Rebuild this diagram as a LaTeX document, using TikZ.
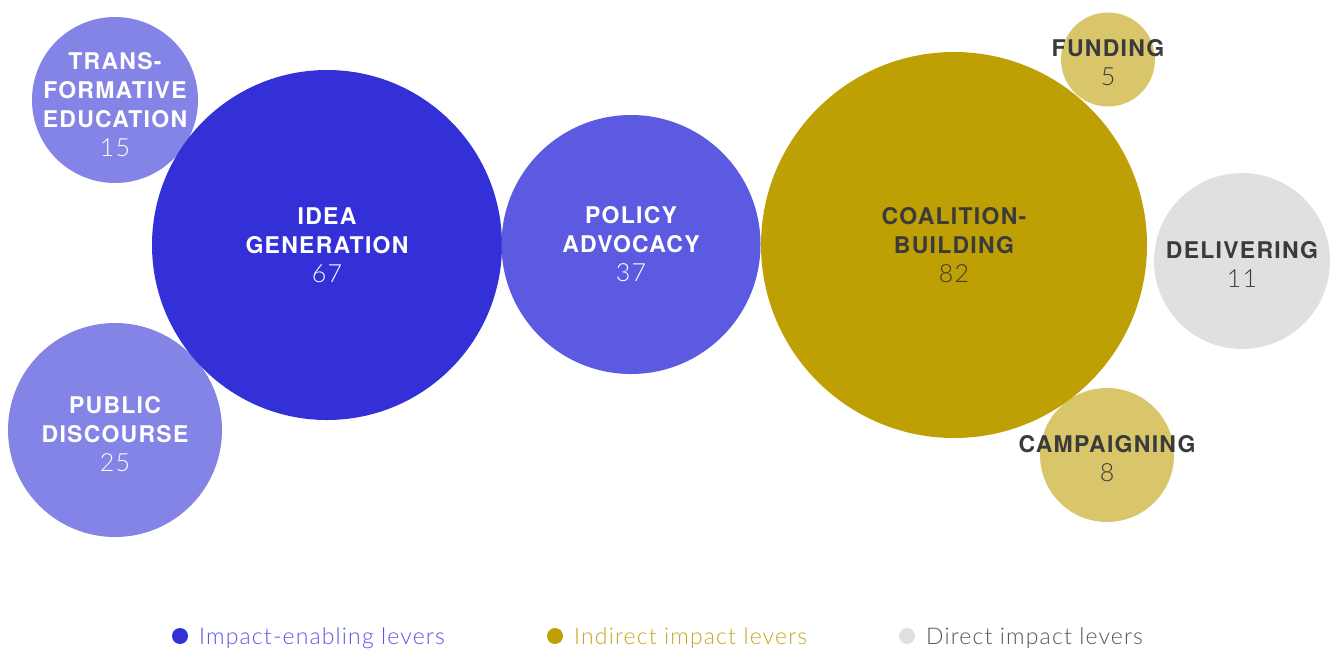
\documentclass[tikz,border=0pt]{standalone}
\usepackage{fontspec}
\setmainfont{TeX Gyre Heros}
\newfontfamily\labfont[LetterSpace=5.5]{TeX Gyre Heros}
\newfontfamily\numfont[LetterSpace=5]{Lato Light}
\definecolor{cidea}{HTML}{3430D8}
\definecolor{cpolicy}{HTML}{5B5AE0}
\definecolor{clight}{HTML}{8483E6}
\definecolor{ccoal}{HTML}{BFA004}
\definecolor{cgoldl}{HTML}{D9C66A}
\definecolor{cgrey}{HTML}{E0E0E0}
\definecolor{cdark}{HTML}{3B3B3B}
\definecolor{lgblue}{HTML}{5A55E6}
\definecolor{lggold}{HTML}{C4A820}
\definecolor{lggrey}{HTML}{555555}
\tikzset{
  bub/.style={circle, inner sep=0pt, minimum size=#1, draw=none},
  lab/.style={align=center, inner sep=0pt, yshift=0pt,
    font=\labfont\bfseries\fontsize{23}{29}\selectfont},
  legdot/.style={circle, inner sep=0pt, minimum size=16pt},
  legtxt/.style={anchor=base west, inner sep=0pt, font=\numfont\fontsize{23}{28}\selectfont},
}
\newcommand{\nm}[1]{{\numfont\mdseries\fontsize{25}{30}\selectfont #1}}
\begin{document}
\begin{tikzpicture}[x=1pt,y=-1pt]
\useasboundingbox (0,0) rectangle (1330,649);
% bubbles
\node[bub=166pt, fill=clight] (trans) at (115,100) {};
\node[bub=214pt, fill=clight] (pub) at (115,430) {};
\node[bub=350pt, fill=cidea] (idea) at (327,245) {};
\node[bub=259pt, fill=cpolicy] (pol) at (631,244.5) {};
\node[bub=94pt, fill=cgoldl] (fund) at (1108,59.5) {};
\node[bub=134pt, fill=cgoldl] (camp) at (1107,455) {};
\node[bub=386pt, fill=ccoal] (coal) at (954,245) {};
\node[bub=176pt, fill=cgrey] (deliv) at (1242,261) {};
% labels
\node[lab, text=white, yshift=-4.5pt] (transl) at (trans.center) {TRANS-\\FORMATIVE\\EDUCATION\\\nm{15}};
\node[lab, text=white, yshift=-4pt] (publ) at (pub.center) {PUBLIC\\DISCOURSE\\\nm{25}};
\node[lab, text=white] (ideal) at (idea.center) {IDEA\\GENERATION\\\nm{67}};
\node[lab, text=white] (poll) at (pol.center) {POLICY\\ADVOCACY\\\nm{37}};
\node[lab, text=cdark] (coall) at (coal.center) {COALITION-\\BUILDING\\\nm{82}};
\node[lab, text=cdark, yshift=-3pt] (fundl) at (fund.center) {FUNDING\\\nm{5}};
\node[lab, text=cdark, yshift=-3pt] (delivl) at (deliv.center) {DELIVERING\\\nm{11}};
\node[lab, text=cdark, yshift=-4pt] (campl) at (camp.center) {CAMPAIGNING\\\nm{8}};
% legend
\node[legdot, fill=cidea] (d1) at (180,636) {};
\node[legtxt, text=lgblue] (t1) at (199,644) {Impact-enabling levers};
\node[legdot, fill=ccoal] (d2) at (555,636) {};
\node[legtxt, text=lggold] (t2) at (574,644) {Indirect impact levers};
\node[legdot, fill=cgrey] (d3) at (907,636) {};
\node[legtxt, text=lggrey] (t3) at (926,644) {Direct impact levers};
\end{tikzpicture}
\end{document}
